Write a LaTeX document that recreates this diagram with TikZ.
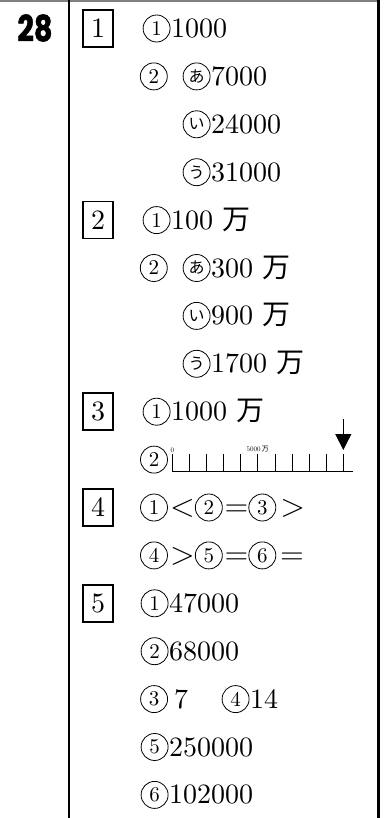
\documentclass[tikz,border=0pt]{standalone}
\usepackage{fontspec}
\setmainfont{lmroman10-regular.otf}
\newfontfamily\jp{Noto Sans CJK JP}
\newfontfamily\numfont{Poppins}[BoldFeatures={FakeBold=1.5}]
\usetikzlibrary{arrows.meta,positioning}

\newcommand\man{ {\jp 万}}
\newcommand\sym[1]{\scalebox{1.3}{$#1$}}

\tikzset{
  ans/.style={anchor=base west,inner sep=0pt,text height=18pt,text depth=0pt,
    font=\fontsize{28}{32}\selectfont},
  maru/.style={circle,draw,line width=0.8pt,minimum size=27pt,inner sep=0pt,
    font=\fontsize{21}{22}\selectfont},
  kana/.style={maru,font=\fontsize{16}{17}\selectfont\jp},
  rel/.style={inner sep=0pt,text height=18pt,text depth=0pt,font=\fontsize{28}{32}\selectfont},
  numbox/.style={draw,line width=1.6pt,minimum width=30pt,minimum height=37pt,
    inner sep=0pt,font=\fontsize{28}{32}\selectfont},
  tiny/.style={font=\fontsize{7}{8}\selectfont,inner sep=1.5pt}
}

\begin{document}
\begin{tikzpicture}[x=1pt,y=-1pt]
  \useasboundingbox (0,0) rectangle (386,818);
  \draw[gray,line width=1.6pt] (0,1) -- (377,1);
  \draw[line width=2pt] (68.5,0) -- (68.5,818);
  \draw[line width=3pt] (378,0) -- (378,818);
  \node[font=\numfont\bfseries\fontsize{36}{38}\selectfont,xscale=0.8,transform shape] (num) at (35,28) {28};

  \node[numbox] (b1) at (98,28.5) {1};
  \node[ans] (r1) at (171,37.5) {1000};
  \node[maru,left=0.5pt of r1] (r1m) {1};
  \node[ans] (r2) at (211,85.4) {7000};
  \node[kana,left=0.5pt of r2] (r2k) {あ};
  \node[maru,left=15pt of r2k] (r2m) {2};
  \node[ans] (r3) at (211,133.3) {24000};
  \node[kana,left=0.5pt of r3] (r3k) {い};
  \node[ans] (r4) at (211,181.2) {31000};
  \node[kana,left=0.5pt of r4] (r4k) {う};

  \node[numbox] (b2) at (98,220.1) {2};
  \node[ans] (r5) at (171,229.1) {100\man};
  \node[maru,left=0.5pt of r5] (r5m) {1};
  \node[ans] (r6) at (211,277.0) {300\man};
  \node[kana,left=0.5pt of r6] (r6k) {あ};
  \node[maru,left=15pt of r6k] (r6m) {2};
  \node[ans] (r7) at (211,324.9) {900\man};
  \node[kana,left=0.5pt of r7] (r7k) {い};
  \node[ans] (r8) at (211,372.8) {1700\man};
  \node[kana,left=0.5pt of r8] (r8k) {う};

  \node[numbox] (b3) at (98,411.7) {3};
  \node[ans] (r9) at (171,420.7) {1000\man};
  \node[maru,left=0.5pt of r9] (r9m) {1};
  \node[maru] (r10m) at (154,459.6) {2};
  \foreach \i in {0,...,10}
    \draw[line width=0.8pt] (172.3+17.1*\i,454) coordinate (t\i) -- ++(0,17.5);
  \draw[line width=0.8pt] (172.3,471.5) -- (353.3,471.5);
  \node[tiny,above] (zero) at (t0) {0};
  \node[tiny,above] (half) at (t5) {5000\,{\jp 万}};
  \coordinate (arr) at (343.3,419);
  \coordinate (hit) at (343.3,450);
  \draw[line width=0.8pt,-{Triangle[length=16pt,width=16pt]}] (arr) -- (hit);

  \node[numbox] (b4) at (98,507.5) {4};
  \node[maru] (r11a) at (154,507.5) {1};
  \node[rel,right=2pt of r11a] (r11b) {\sym{<}};
  \node[maru,right=0pt of r11b] (r11c) {2};
  \node[rel,right=2pt of r11c] (r11d) {\sym{=}};
  \node[maru,right=0pt of r11d] (r11e) {3};
  \node[rel,right=4pt of r11e] (r11f) {\sym{>}};
  \node[maru] (r12a) at (154,555.4) {4};
  \node[rel,right=2pt of r12a] (r12b) {\sym{>}};
  \node[maru,right=0pt of r12b] (r12c) {5};
  \node[rel,right=2pt of r12c] (r12d) {\sym{=}};
  \node[maru,right=0pt of r12d] (r12e) {6};
  \node[rel,right=4pt of r12e] (r12f) {\sym{=}};

  \node[numbox] (b5) at (98,603.3) {5};
  \node[ans] (r13) at (169,612.3) {47000};
  \node[maru,left=0.5pt of r13] (r13m) {1};
  \node[ans] (r14) at (169,660.2) {68000};
  \node[maru,left=0.5pt of r14] (r14m) {2};
  \node[ans] (r15) at (174,708.1) {7};
  \node[maru,left=6pt of r15] (r15m) {3};
  \node[ans] (r15b) at (250,708.1) {14};
  \node[maru,left=0.5pt of r15b] (r15n) {4};
  \node[ans] (r16) at (169,756.0) {250000};
  \node[maru,left=0.5pt of r16] (r16m) {5};
  \node[ans] (r17) at (169,803.9) {102000};
  \node[maru,left=0.5pt of r17] (r17m) {6};
\end{tikzpicture}
\end{document}
